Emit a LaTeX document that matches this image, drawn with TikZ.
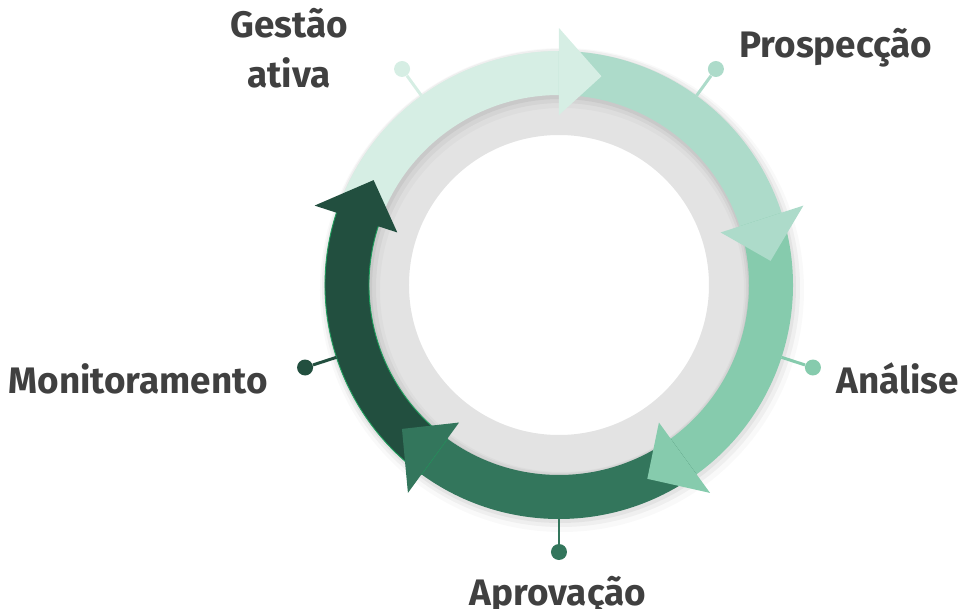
\documentclass[tikz,border=0pt]{standalone}
\usepackage{fontspec}
\newfontfamily\lblfont{Fira Sans}

\definecolor{gestaoC}{HTML}{D6EEE4}
\definecolor{prospC}{HTML}{ADDBCA}
\definecolor{analiseC}{HTML}{86CBAD}
\definecolor{aprovC}{HTML}{33765C}
\definecolor{monitC}{HTML}{224F3F}
\definecolor{monitEdge}{HTML}{1E9E5C}
\definecolor{ringC}{HTML}{E3E3E3}
\definecolor{textC}{HTML}{404040}

\begin{document}
\begin{tikzpicture}[x=0.02cm, y=0.02cm,
    label/.style={inner sep=0pt, text=textC, font=\lblfont\bfseries\fontsize{21pt}{28.5pt}\selectfont},
    pindot/.style={circle, inner sep=0pt, minimum size=0.32cm},
    pinline/.style={line width=1.7pt},
    ringshadow/.style={fill=black, even odd rule}]
    \useasboundingbox (-559,-324) rectangle (399,285);

    % gray ring behind the cycle
    \fill[ringC, even odd rule] (0,0) circle[radius=201] (0,0) circle[radius=150];
    \fill[ringshadow, opacity=0.025] (3,-5) circle[radius=242] (3,-5) circle[radius=182];
    \fill[ringshadow, opacity=0.04] (2,-3) circle[radius=239] (2,-3) circle[radius=185];
    \fill[ringshadow, opacity=0.05] (1,-2) circle[radius=236] (1,-2) circle[radius=188];

    % arrow bodies
    \fill[gestaoC] (162:234) arc[start angle=162, end angle=89, radius=234] -- (89:190) arc[start angle=89, end angle=162, radius=190] -- cycle;
    \fill[prospC] (90:234) arc[start angle=90, end angle=17, radius=234] -- (17:190) arc[start angle=17, end angle=90, radius=190] -- cycle;
    \fill[analiseC] (18:234) arc[start angle=18, end angle=-55, radius=234] -- (-55:190) arc[start angle=-55, end angle=18, radius=190] -- cycle;
    \fill[aprovC] (-54:234) arc[start angle=-54, end angle=-127, radius=234] -- (-127:190) arc[start angle=-127, end angle=-54, radius=190] -- cycle;
    \filldraw[fill=monitC, draw=monitEdge, line width=0.5pt] (-126:234) arc[start angle=-126, end angle=-199, radius=234] -- (-199:190) arc[start angle=-199, end angle=-126, radius=190] -- cycle;

    % arrow heads
    \fill[gestaoC] (90:257) -- (78.5:213) -- (90:170) -- cycle;
    \fill[prospC] (18:257) -- (6.5:213) -- (18:170) -- cycle;
    \fill[analiseC] (-54:257) -- (-65.5:213) -- (-54:170) -- cycle;
    \fill[aprovC] (-126:257) -- (-137.5:213) -- (-126:170) -- cycle;
    \fill[monitC] (162:257) -- (150.5:213) -- (162:170) -- cycle;

    % pins
    \coordinate (gestaoA) at (126:234);
    \coordinate (prospA) at (54:234);
    \coordinate (analiseA) at (-18:234);
    \coordinate (aprovA) at (-90:234);
    \coordinate (monitA) at (-162:234);
    \node[pindot, fill=gestaoC] (gestaoD) at (126:267) {};
    \node[pindot, fill=prospC] (prospD) at (54:267) {};
    \node[pindot, fill=analiseC] (analiseD) at (-18:267) {};
    \node[pindot, fill=aprovC] (aprovD) at (-90:267) {};
    \node[pindot, fill=monitC] (monitD) at (-162:267) {};
    \draw[pinline, gestaoC] (gestaoA) -- (gestaoD);
    \draw[pinline, prospC] (prospA) -- (prospD);
    \draw[pinline, analiseC] (analiseA) -- (analiseD);
    \draw[pinline, aprovC] (aprovA) -- (aprovD);
    \draw[pinline, monitC] (monitA) -- (monitD);

    % labels
    \node[label, align=center, anchor=base] (gestao) at (-270,197) {Gestão\\ativa};
    \node[label, anchor=base west] (prosp) at (180,228) {Prospecção};
    \node[label, anchor=base west] (analise) at (277,-108) {Análise};
    \node[label, anchor=base] (aprov) at (-1,-320) {Aprovação};
    \node[label, anchor=base east] (monit) at (-291,-108) {Monitoramento};
\end{tikzpicture}
\end{document}
